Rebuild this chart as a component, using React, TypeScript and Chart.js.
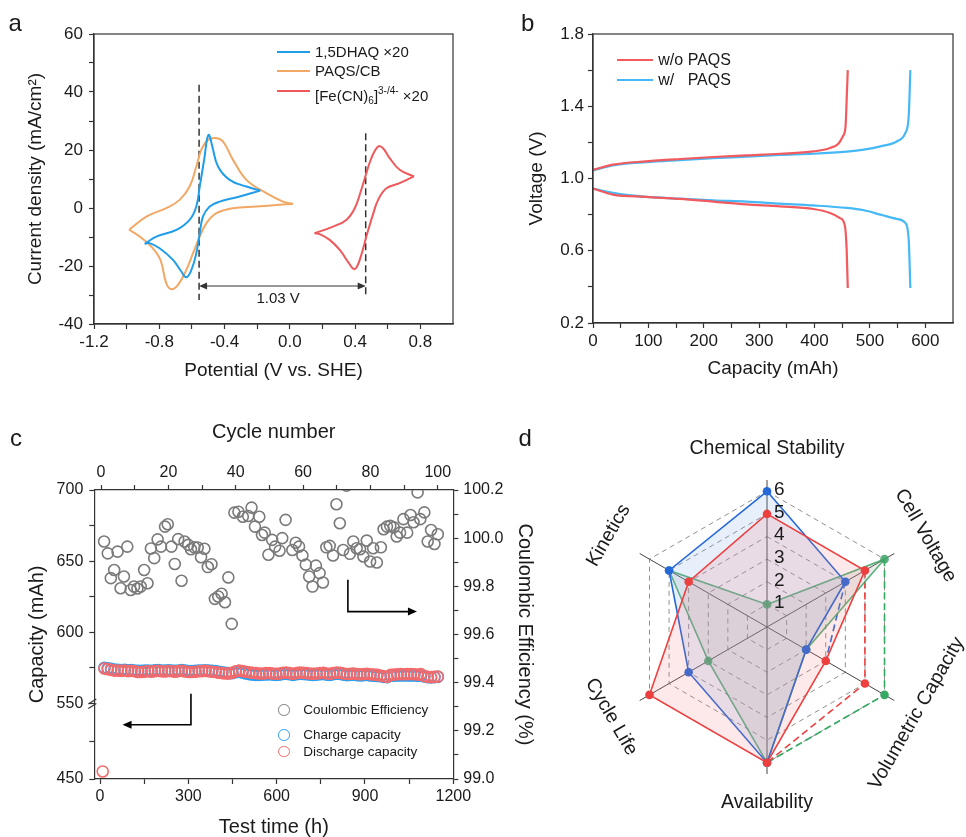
import React, { useEffect, useRef } from "react";
import { Chart, registerables } from "chart.js";

Chart.register(...registerables);

const FONT = "'Liberation Sans', Arial, Helvetica, sans-serif";
const INK = "#1a1a1a";
const AXIS = "#333333";
Chart.defaults.font.family = FONT;
Chart.defaults.color = INK;

// ---------------- Panel a : cyclic voltammetry ----------------
const dhaqAnodicV = [-0.889, -0.818, -0.695, -0.614, -0.573, -0.552, -0.522, -0.508, -0.495, -0.475, -0.44, -0.369, -0.266, -0.181];
const dhaqAnodicI = [-12.37, -9.85, -7.54, -4.09, 0.51, 7.41, 17.76, 23.5, 25.25, 21.2, 14.3, 9.7, 7.4, 6.0];
const dhaqCathodicV = [-0.181, -0.307, -0.43, -0.491, -0.532, -0.552, -0.573, -0.603, -0.634, -0.665, -0.716, -0.798, -0.859, -0.889];
const dhaqCathodicI = [6.0, 3.96, 2.2, 0.5, -2.9, -8.7, -15.6, -21.35, -23.9, -21.9, -17.9, -13.9, -12.1, -12.37];

const paqsAnodicV = [-0.985, -0.879, -0.757, -0.675, -0.614, -0.573, -0.542, -0.501, -0.454, -0.409, -0.348, -0.266, -0.144, -0.042, 0.019];
const paqsAnodicI = [-7.5, -2.94, -0.06, 2.8, 7.4, 14.3, 20.1, 23.5, 24.1, 22.9, 16.6, 9.7, 5.1, 2.2, 1.4];
const paqsCathodicV = [0.019, -0.062, -0.205, -0.348, -0.45, -0.511, -0.552, -0.593, -0.634, -0.685, -0.726, -0.757, -0.793, -0.849, -0.92, -0.985];
const paqsCathodicI = [1.4, 1.1, 0.5, -0.06, -1.8, -5.2, -9.85, -15.6, -21.35, -26.5, -28.0, -26.0, -17.9, -13.3, -9.85, -7.5];

const fcnAnodicV = [0.152, 0.265, 0.346, 0.398, 0.438, 0.469, 0.5, 0.541, 0.571, 0.612, 0.673, 0.761];
const fcnAnodicI = [-8.7, -6.4, -4.1, -0.07, 6.3, 12.0, 17.2, 21.2, 20.6, 17.2, 13.2, 10.9];
const fcnCathodicV = [0.761, 0.673, 0.592, 0.541, 0.506, 0.469, 0.438, 0.412, 0.393, 0.363, 0.306, 0.244, 0.183, 0.152];
const fcnCathodicI = [10.9, 8.56, 6.8, 2.8, -2.9, -9.85, -16.2, -20.2, -21.1, -19.1, -14.45, -11.0, -9.0, -8.7];

const gapLeftV = [-0.556, -0.556];
const gapLeftI = [42.5, -31.7];
const gapRightV = [0.465, 0.465];
const gapRightI = [25.8, -30.0];
const gapArrowI = -26.9;
const gapLabel = "1.03 V";
const gapLabelV = -0.072;
const gapLabelI = -31.3;

const aXMajor = [-1.2, -0.8, -0.4, 0, 0.4, 0.8];
const aXLabels = ["-1.2", "-0.8", "-0.4", "0.0", "0.4", "0.8"];
const aXMinor = [-1.0, -0.6, -0.2, 0.2, 0.6];
const aYMajor = [-40, -20, 0, 20, 40, 60];
const aYLabels = ["-40", "-20", "0", "20", "40", "60"];
const aYMinor = [-30, -10, 10, 30, 50];

// ---------------- Panel b : charge / discharge ----------------
const woChargeCap = [0, 36, 96, 157, 217, 277, 338, 398, 428, 443, 451, 456, 458, 460];
const woChargeV = [1.048, 1.077, 1.095, 1.108, 1.119, 1.128, 1.137, 1.15, 1.169, 1.193, 1.233, 1.289, 1.436, 1.6];
const wChargeCap = [0, 36, 96, 157, 217, 277, 338, 398, 458, 489, 519, 549, 564, 570, 573];
const wChargeV = [1.045, 1.073, 1.091, 1.102, 1.112, 1.121, 1.13, 1.137, 1.149, 1.16, 1.178, 1.206, 1.252, 1.344, 1.6];
const woDischargeCap = [0, 36, 96, 157, 217, 277, 338, 398, 428, 446, 455, 458, 460];
const woDischargeV = [0.944, 0.911, 0.898, 0.887, 0.872, 0.857, 0.846, 0.831, 0.809, 0.781, 0.735, 0.606, 0.394];
const wDischargeCap = [0, 36, 96, 157, 217, 277, 338, 398, 458, 489, 519, 549, 564, 570, 573];
const wDischargeV = [0.944, 0.92, 0.898, 0.889, 0.879, 0.872, 0.861, 0.851, 0.837, 0.824, 0.8, 0.776, 0.754, 0.661, 0.394];

const bXMajor = [0, 100, 200, 300, 400, 500, 600];
const bXLabels = ["0", "100", "200", "300", "400", "500", "600"];
const bXMinor = [50, 150, 250, 350, 450, 550];
const bYMajor = [0.2, 0.6, 1.0, 1.4, 1.8];
const bYLabels = ["0.2", "0.6", "1.0", "1.4", "1.8"];
const bYMinor = [0.4, 0.8, 1.2, 1.6];

// ---------------- Panel c : cycling ----------------
const ceCycle = [0.9, 2.0, 2.9, 3.9, 4.9, 5.8, 6.8, 7.8, 8.8, 9.8, 10.8, 11.8, 12.8, 13.8, 14.8, 15.8, 16.8, 17.8, 19.0, 19.8,
  20.9, 21.9, 22.9, 23.9, 24.8, 25.9, 26.7, 27.7, 28.7, 29.7, 30.7, 31.7, 32.8, 33.8, 34.8, 35.8, 36.8, 37.8, 38.8, 39.6,
  40.8, 42.1, 43.7, 44.7, 45.7, 47.0, 47.8, 48.6, 49.7, 50.8, 51.7, 53.0, 53.8, 54.8, 56.8, 57.8, 58.8, 59.8, 60.8, 61.8,
  62.8, 63.8, 64.9, 65.9, 66.9, 67.9, 68.9, 69.9, 70.9, 71.9, 72.9, 73.9, 74.9, 75.9, 76.9, 77.9, 78.9, 79.9, 80.8, 81.9,
  83.1, 83.9, 84.9, 85.9, 86.9, 87.8, 88.8, 89.8, 90.9, 91.9, 92.8, 94.0, 94.8, 96.0, 97.0, 98.0, 99.0, 100.0];
const ceValue = [99.986, 99.937, 99.834, 99.868, 99.944, 99.792, 99.841, 99.965, 99.785, 99.799, 99.791, 99.799, 99.868, 99.813, 99.957, 99.917, 99.995, 99.965, 100.048, 100.058,
  99.965, 99.893, 99.996, 99.823, 99.986, 99.972, 99.954, 99.962, 99.961, 99.921, 99.956, 99.88, 99.892, 99.748, 99.758, 99.769, 99.734, 99.837, 99.644, 100.106,
  100.11, 100.089, 100.092, 100.127, 100.048, 100.089, 100.013, 100.023, 99.931, 99.993, 99.965, 99.948, 100.0, 100.076, 99.951, 99.981, 99.965, 99.928, 99.89, 99.841,
  99.799, 99.886, 99.855, 99.816, 99.962, 99.968, 99.928, 100.141, 100.062, 99.951, 100.218, 99.935, 99.986, 99.958, 99.954, 99.924, 99.99, 99.903, 99.958, 99.899,
  99.962, 100.037, 100.048, 100.051, 100.045, 100.007, 100.023, 100.079, 100.023, 100.096, 100.066, 100.19, 100.079, 100.107, 99.986, 100.034, 99.976, 100.016];

const capacityCycle = [1, 2, 3, 4, 5, 6, 7, 8, 9, 10, 11, 12, 13, 14, 15, 16, 17, 18, 19, 20, 21, 22, 23, 24, 25, 26, 27, 28, 29, 30,
  31, 32, 33, 34, 35, 36, 37, 38, 39, 40, 41, 42, 43, 44, 45, 46, 47, 48, 49, 50, 51, 52, 53, 54, 55, 56, 57, 58, 59, 60,
  61, 62, 63, 64, 65, 66, 67, 68, 69, 70, 71, 72, 73, 74, 75, 76, 77, 78, 79, 80, 81, 82, 83, 84, 85, 86, 87, 88, 89, 90,
  91, 92, 93, 94, 95, 96, 97, 98, 99, 100];
const dischargeCapacity = [574.5, 574, 573.5, 573, 573, 572.8, 573, 572.6, 572.8, 572.5,
  572, 572, 572.3, 572.5, 572.2, 572.6, 572.8, 572.5, 572.4, 572.7,
  572.5, 572.2, 572.6, 572.8, 572.4, 572, 572, 572.2, 572.5, 572.6,
  572.8, 572.5, 572.2, 572, 571.5, 571.2, 571, 571, 571.5, 572.5,
  573, 572.6, 572.2, 571.8, 571.5, 571.2, 571, 571, 571.2, 571.3,
  571, 570.8, 571, 571.5, 571.6, 571.2, 570.8, 571.2, 571.6, 571.4,
  571.2, 571, 570.8, 571, 571.2, 571.4, 571, 570.8, 571.3, 571.6,
  571.4, 571, 570.6, 570.8, 571, 570.6, 570.4, 570.6, 570.8, 570.4,
  570.2, 570, 569.6, 569, 568.6, 570, 570.2, 570.4, 570.5, 570.4,
  570.5, 570.6, 570.4, 570.2, 570.5, 569.2, 568.6, 568.4, 568.6, 568.8];
const chargeCapacity = [575, 574.6, 574.2, 573.8, 573.6, 573.4, 573.5, 573.2, 573.3, 573,
  572.8, 572.9, 573, 573.1, 572.9, 573.2, 573.3, 573, 573, 573.2,
  573, 572.8, 573.1, 573.3, 573, 572.7, 572.6, 572.8, 573, 573.1,
  573.2, 573, 572.8, 572.6, 572.2, 571.8, 571.4, 571.2, 571.2, 571.8,
  572.2, 571.6, 571, 570.5, 570.2, 570, 570, 570.2, 570.3, 570.4,
  570.2, 570, 570.2, 570.6, 570.8, 570.4, 570, 570.4, 570.8, 570.6,
  570.4, 570.2, 570, 570.2, 570.4, 570.6, 570.2, 570, 570.5, 570.8,
  570.6, 570.2, 569.8, 570, 570.2, 569.8, 569.6, 569.8, 570, 569.6,
  569.4, 569.2, 569, 568.6, 568.4, 569.4, 569.4, 569.6, 569.6, 569.5,
  569.6, 569.6, 569.5, 569.3, 569.5, 568.8, 568.4, 568.2, 568.4, 568.6];
const firstDischargeCycle = [0.5];
const firstDischargeCapacity = [460];

const cTopMajor = [0, 20, 40, 60, 80, 100];
const cTopLabels = ["0", "20", "40", "60", "80", "100"];
const cTopMinor = [10, 30, 50, 70, 90];
const cBottomMajor = [0, 300, 600, 900, 1200];
const cBottomLabels = ["0", "300", "600", "900", "1200"];
const cBottomMinor = [150, 450, 750, 1050];
const cCapMajor = [550, 600, 650, 700];
const cCapLabels = ["550", "600", "650", "700"];
const cCapMinor = [575, 625, 675];
const cCapLowMajor = [450];
const cCapLowLabels = ["450"];
const cCapLowMinor = [500];
const cCeMajor = [99.0, 99.2, 99.4, 99.6, 99.8, 100.0, 100.2];
const cCeLabels = ["99.0", "99.2", "99.4", "99.6", "99.8", "100.0", "100.2"];
const cCeMinor = [99.1, 99.3, 99.5, 99.7, 99.9, 100.1];

// arrows (cycle number, coulombic efficiency)
const leftArrowPath = [[26.7, 99.354], [26.7, 99.225], [6.4, 99.225]];
const rightArrowPath = [[73.3, 99.827], [73.3, 99.695], [93.8, 99.695]];

// ---------------- Panel d : radar ----------------
const radarLabels = ["Chemical Stability", "Cell Voltage", "Volumetric Capacity", "Availability", "Cycle Life", "Kinetics"];
const redScores = [5, 5, 3, 6, 6, 4];
const blueScores = [6, 4, 2, 6, 4, 5];
const greenScores = [1, 6, 2, 6, 3, 5];
const redProjected = [null, 5, 5, 6, null, null];
const greenProjected = [null, 6, 6, 6, null, null];
const blueProjected = [null, 4, 3, null, null, null];
const radarTickValues = [0, 1, 2, 3, 4, 5, 6];
const radarTickLabels = ["", "1", "2", "3", "4", "5", "6"];

// ---------------- helpers ----------------
const pts = (xs: number[], ys: number[]) => xs.map((x, i) => ({ x, y: ys[i] }));

function axis(p: any) {
  const all = [...p.major, ...p.minor].sort((a: number, b: number) => a - b);
  return {
    type: "linear",
    position: p.position,
    min: p.min,
    max: p.max,
    bounds: "data",
    stack: p.stack,
    stackWeight: p.weight,
    afterBuildTicks: (s: any) => {
      s.ticks = all.map((v: number) => ({ value: v }));
    },
    afterFit: (s: any) => {
      if (s.isHorizontal()) s.height = p.fit;
      else s.width = p.fit;
    },
    ticks: {
      autoSkip: false,
      maxRotation: 0,
      minRotation: 0,
      padding: p.pad ?? 5,
      font: { size: p.size ?? 17 },
      color: INK,
      callback: (v: number) => {
        const i = p.major.findIndex((m: number) => Math.abs(m - v) < 1e-9);
        return i >= 0 ? p.labels[i] : "";
      },
    },
    grid: { display: true, drawOnChartArea: false, drawTicks: true, tickLength: 5, tickWidth: 1.2, tickColor: AXIS },
    border: { display: true, color: AXIS, width: 1.2 },
    title: p.title ?? { display: false },
  };
}

const framePlugin = {
  id: "frame",
  afterDraw(chart: any) {
    const { ctx, chartArea: a } = chart;
    ctx.save();
    ctx.strokeStyle = AXIS;
    ctx.lineWidth = 1.2;
    ctx.strokeRect(a.left, a.top, a.right - a.left, a.bottom - a.top);
    ctx.restore();
  },
};

function arrowHead(ctx: any, x: number, y: number, dx: number, dy: number, len: number, half: number) {
  ctx.beginPath();
  ctx.moveTo(x, y);
  ctx.lineTo(x - dx * len - dy * half, y - dy * len + dx * half);
  ctx.lineTo(x - dx * len + dy * half, y - dy * len - dx * half);
  ctx.closePath();
  ctx.fill();
}

// ---------------- panel builders ----------------
const A_BLUE = "#1f9de9";
const A_ORANGE = "#f2a865";
const A_RED = "#f0595c";

function cvLine(xs: number[], ys: number[], color: string) {
  return { data: pts(xs, ys), showLine: true, borderColor: color, backgroundColor: color, borderWidth: 2, pointRadius: 0, tension: 0.4, fill: false };
}
function dashLine(xs: number[], ys: number[]) {
  return { data: pts(xs, ys), showLine: true, borderColor: "#333", borderWidth: 1.5, borderDash: [7, 4], pointRadius: 0, fill: false };
}

const cvAnnotations = {
  id: "cvAnnotations",
  afterDatasetsDraw(chart: any) {
    const { ctx } = chart;
    const x = chart.scales.x;
    const y = chart.scales.y;
    const ya = y.getPixelForValue(gapArrowI);
    const x1 = x.getPixelForValue(gapLeftV[0]);
    const x2 = x.getPixelForValue(gapRightV[0]);
    ctx.save();
    ctx.strokeStyle = "#333";
    ctx.fillStyle = "#333";
    ctx.lineWidth = 1.1;
    ctx.beginPath();
    ctx.moveTo(x1 + 2, ya);
    ctx.lineTo(x2 - 2, ya);
    ctx.stroke();
    arrowHead(ctx, x1, ya, -1, 0, 8, 3.5);
    arrowHead(ctx, x2, ya, 1, 0, 8, 3.5);
    ctx.fillStyle = INK;
    ctx.font = `15px ${FONT}`;
    ctx.textAlign = "center";
    ctx.textBaseline = "middle";
    ctx.fillText(gapLabel, x.getPixelForValue(gapLabelV), y.getPixelForValue(gapLabelI));
    ctx.restore();
  },
};

function buildA() {
  return {
    type: "scatter",
    data: {
      datasets: [
        cvLine(fcnAnodicV, fcnAnodicI, A_RED),
        cvLine(fcnCathodicV, fcnCathodicI, A_RED),
        cvLine(dhaqAnodicV, dhaqAnodicI, A_BLUE),
        cvLine(dhaqCathodicV, dhaqCathodicI, A_BLUE),
        cvLine(paqsAnodicV, paqsAnodicI, A_ORANGE),
        cvLine(paqsCathodicV, paqsCathodicI, A_ORANGE),
        dashLine(gapLeftV, gapLeftI),
        dashLine(gapRightV, gapRightI),
      ],
    },
    options: {
      responsive: false,
      animation: false,
      layout: { padding: { left: 0, top: 34, right: 30, bottom: 0 } },
      plugins: { legend: { display: false }, tooltip: { enabled: false } },
      scales: {
        x: axis({ position: "bottom", min: -1.2, max: 1.0, major: aXMajor, labels: aXLabels, minor: aXMinor, fit: 66, pad: 3,
          title: { display: true, text: "Potential (V vs. SHE)", font: { size: 19 }, color: INK, padding: { top: 0, bottom: 8 } } }),
        y: axis({ position: "left", min: -40, max: 60, major: aYMajor, labels: aYLabels, minor: aYMinor, fit: 94, pad: 6,
          title: { display: true, text: "Current density (mA/cm²)", font: { size: 19 }, color: INK, padding: { top: 24, bottom: 0 } } }),
      },
    },
    plugins: [framePlugin, cvAnnotations],
  };
}

const B_RED = "#f25a5e";
const B_BLUE = "#45b8f5";
function gcdLine(xs: number[], ys: number[], color: string) {
  return { data: pts(xs, ys), showLine: true, borderColor: color, backgroundColor: color, borderWidth: 2.2, pointRadius: 0, cubicInterpolationMode: "monotone", fill: false };
}
function buildB() {
  return {
    type: "scatter",
    data: {
      datasets: [
        gcdLine(woChargeCap, woChargeV, B_RED),
        gcdLine(woDischargeCap, woDischargeV, B_RED),
        gcdLine(wChargeCap, wChargeV, B_BLUE),
        gcdLine(wDischargeCap, wDischargeV, B_BLUE),
      ],
    },
    options: {
      responsive: false,
      animation: false,
      layout: { padding: { left: 0, top: 34, right: 13, bottom: 0 } },
      plugins: { legend: { display: false }, tooltip: { enabled: false } },
      scales: {
        x: axis({ position: "bottom", min: 0, max: 650, major: bXMajor, labels: bXLabels, minor: bXMinor, fit: 67, pad: 3,
          title: { display: true, text: "Capacity (mAh)", font: { size: 19 }, color: INK, padding: { top: 0, bottom: 10 } } }),
        y: axis({ position: "left", min: 0.2, max: 1.8, major: bYMajor, labels: bYLabels, minor: bYMinor, fit: 110, pad: 4,
          title: { display: true, text: "Voltage (V)", font: { size: 19 }, color: INK, padding: { top: 42, bottom: 0 } } }),
      },
    },
    plugins: [framePlugin],
  };
}

const C_GRAY = "#7a7a7a";
const C_BLUE = "#2a9ff0";
const C_RED = "#f46a6a";

const cyclingDecorations = {
  id: "cyclingDecorations",
  afterDraw(chart: any) {
    const { ctx, chartArea } = chart;
    const xs = chart.scales.xTop;
    const ys = chart.scales.yCE;
    const yb = chart.scales.y.bottom;
    const left = chartArea.left;
    ctx.save();
    // axis break marks
    ctx.strokeStyle = AXIS;
    ctx.lineWidth = 1.2;
    for (const off of [-2.2, 2.2]) {
      ctx.beginPath();
      ctx.moveTo(left - 6, yb + off + 3);
      ctx.lineTo(left + 2, yb + off - 2);
      ctx.stroke();
    }
    // guide arrows
    ctx.strokeStyle = "#000";
    ctx.fillStyle = "#000";
    ctx.lineWidth = 1.6;
    for (const path of [leftArrowPath, rightArrowPath]) {
      const p = path.map(([c, e]) => [xs.getPixelForValue(c), ys.getPixelForValue(e)]);
      ctx.beginPath();
      ctx.moveTo(p[0][0], p[0][1]);
      ctx.lineTo(p[1][0], p[1][1]);
      const dir = Math.sign(p[2][0] - p[1][0]);
      ctx.lineTo(p[2][0] - dir * 6, p[2][1]);
      ctx.stroke();
      arrowHead(ctx, p[2][0], p[2][1], dir, 0, 9, 4);
    }
    ctx.restore();
  },
};

function circles(xs: number[], ys: number[], color: string, xAxisID: string, yAxisID: string) {
  return { data: pts(xs, ys), xAxisID, yAxisID, showLine: false, pointStyle: "circle", pointRadius: 5.5, borderWidth: 1.6, borderColor: color, backgroundColor: "rgba(255,255,255,0)", pointBackgroundColor: "rgba(255,255,255,0)" };
}

function buildC() {
  return {
    type: "scatter",
    data: {
      datasets: [
        circles(firstDischargeCycle, firstDischargeCapacity, C_RED, "xTop", "yLow"),
        circles(capacityCycle, dischargeCapacity, C_RED, "xTop", "y"),
        circles(capacityCycle, chargeCapacity, C_BLUE, "xTop", "y"),
        circles(ceCycle, ceValue, C_GRAY, "xTop", "yCE"),
      ],
    },
    options: {
      responsive: false,
      animation: false,
      layout: { padding: 0 },
      plugins: { legend: { display: false }, tooltip: { enabled: false } },
      scales: {
        x: axis({ position: "bottom", min: -19.4, max: 1200, major: cBottomMajor, labels: cBottomLabels, minor: cBottomMinor, fit: 58, pad: 3, size: 16,
          title: { display: true, text: "Test time (h)", font: { size: 20, lineHeight: 1 }, color: INK, padding: { top: 0, bottom: 0 } } }),
        xTop: axis({ position: "top", min: -2, max: 104.6, major: cTopMajor, labels: cTopLabels, minor: cTopMinor, fit: 90, pad: 3, size: 16,
          title: { display: true, text: "Cycle number", font: { size: 20 }, color: INK, padding: { top: 20, bottom: 0 } } }),
        yLow: axis({ position: "left", min: 450, max: 550, major: cCapLowMajor, labels: cCapLowLabels, minor: cCapLowMinor, fit: 94.3, pad: 6, size: 16,
          stack: "capacity", weight: 75.7 }),
        y: axis({ position: "left", min: 550, max: 700, major: cCapMajor, labels: cCapLabels, minor: cCapMinor, fit: 94.3, pad: 6, size: 16,
          stack: "capacity", weight: 213.3,
          title: { display: true, text: "Capacity (mAh)", align: "start", font: { size: 20 }, color: INK, padding: { top: 25, bottom: 0 } } }),
        yCE: axis({ position: "right", min: 99.0, max: 100.2, major: cCeMajor, labels: cCeLabels, minor: cCeMinor, fit: 96.7, pad: 5, size: 16,
          title: { display: true, text: "Coulombic Efficiency (%)", font: { size: 20 }, color: INK, padding: { top: 13, bottom: 0 } } }),
      },
    },
    plugins: [cyclingDecorations],
  };
}

const D_RED = "#ee3f3f";
const D_BLUE = "#2468d9";
const D_GREEN = "#35a862";
const labelRotation = [0, Math.PI / 3, -Math.PI / 3, 0, Math.PI / 3, -Math.PI / 3];
const labelDistance = [7.87, 8.09, 7.64, 7.78, 7.95, 8.09];

const radarText = {
  id: "radarText",
  afterDraw(chart: any) {
    const { ctx } = chart;
    const s = chart.scales.r;
    ctx.save();
    ctx.fillStyle = INK;
    ctx.font = `19px ${FONT}`;
    ctx.textAlign = "left";
    ctx.textBaseline = "middle";
    radarTickValues.forEach((v, i) => {
      if (!radarTickLabels[i]) return;
      const d = s.getDistanceFromCenterForValue(v);
      ctx.fillText(radarTickLabels[i], s.xCenter + 7, s.yCenter - d - 1.5);
    });
    ctx.font = `19.5px ${FONT}`;
    ctx.textAlign = "center";
    radarLabels.forEach((lab, i) => {
      const p = s.getPointPosition(i, s.getDistanceFromCenterForValue(labelDistance[i]));
      ctx.save();
      ctx.translate(p.x, p.y);
      ctx.rotate(labelRotation[i]);
      ctx.fillText(lab, 0, 0);
      ctx.restore();
    });
    ctx.restore();
  },
};

function buildD() {
  const solid = (data: number[], color: string, fillColor: string) => ({
    data, borderColor: color, backgroundColor: fillColor, pointBackgroundColor: color, pointBorderColor: color,
    borderWidth: 1.6, pointRadius: 4.3, pointBorderWidth: 0, fill: true,
  });
  const dashed = (data: (number | null)[], color: string, radius: number[]) => ({
    data, borderColor: color, backgroundColor: color, pointBackgroundColor: color, pointBorderColor: color,
    borderWidth: 1.6, borderDash: [7, 4], pointRadius: radius, pointBorderWidth: 0, fill: false, spanGaps: false,
  });
  return {
    type: "radar",
    data: {
      labels: radarLabels,
      datasets: [
        solid(redScores, D_RED, "rgba(244,120,120,0.16)"),
        solid(blueScores, D_BLUE, "rgba(110,160,230,0.17)"),
        solid(greenScores, "rgba(60,165,100,0.85)", "rgba(150,160,150,0.18)"),
        dashed(redProjected, D_RED, [0, 0, 4.3, 0, 0, 0]),
        dashed(greenProjected, D_GREEN, [0, 0, 4.3, 0, 0, 0]),
        dashed(blueProjected, D_BLUE, [0, 0, 0, 0, 0, 0]),
      ],
    },
    options: {
      responsive: false,
      animation: false,
      layout: { padding: { left: 80, right: 52, top: 60, bottom: 63 } },
      plugins: { legend: { display: false }, tooltip: { enabled: false } },
      elements: { line: { tension: 0 } },
      scales: {
        r: {
          min: 0,
          max: 6.5,
          bounds: "data",
          afterBuildTicks: (s: any) => {
            s.ticks = radarTickValues.map((v) => ({ value: v }));
          },
          ticks: { display: false },
          pointLabels: { display: false },
          grid: { color: "#8f8f8f", lineWidth: 1 },
          border: { dash: [5, 4] },
          angleLines: { color: "#444", lineWidth: 1 },
        },
      },
    },
    plugins: [radarText],
  };
}

// ---------------- components ----------------
function ChartCanvas({ left, top, width, height, build }: { left: number; top: number; width: number; height: number; build: () => any }) {
  const ref = useRef<HTMLCanvasElement | null>(null);
  useEffect(() => {
    if (!ref.current) return;
    const chart = new Chart(ref.current, build());
    return () => chart.destroy();
  }, []);
  return <canvas ref={ref} width={width} height={height} style={{ position: "absolute", left, top, width, height }} />;
}

const abs = (left: number, top: number, extra: any = {}) => ({ position: "absolute" as const, left, top, whiteSpace: "pre" as const, ...extra });

function LineKey({ x, y, w, color, children, size }: any) {
  return (
    <>
      <div style={abs(x, y - 1.1, { width: w, height: 2.2, background: color })} />
      <div style={abs(x + w + 5, y - 10, { fontSize: size, lineHeight: "20px", color: INK })}>{children}</div>
    </>
  );
}

function CircleKey({ x, y, color, label }: any) {
  return (
    <>
      <div style={abs(x - 6, y - 6, { width: 9.5, height: 9.5, border: `1.5px solid ${color}`, borderRadius: "50%" })} />
      <div style={abs(x + 19, y - 9, { fontSize: 13.5, lineHeight: "18px", color: INK })}>{label}</div>
    </>
  );
}

export default function App() {
  const letter = { fontSize: 24, lineHeight: "24px", color: INK };
  return (
    <div style={{ position: "absolute", left: 0, top: 0, width: 966, height: 837, overflow: "hidden", background: "#fff", fontFamily: FONT, color: INK }}>
      <ChartCanvas left={0} top={0} width={483} height={390} build={buildA} />
      <ChartCanvas left={483} top={0} width={483} height={390} build={buildB} />
      <ChartCanvas left={0} top={400} width={550} height={437} build={buildC} />
      <ChartCanvas left={540} top={420} width={426} height={417} build={buildD} />

      <div style={abs(8.5, 11.4, letter)}>a</div>
      <div style={abs(521, 11.4, letter)}>b</div>
      <div style={abs(10, 426.4, letter)}>c</div>
      <div style={abs(518.5, 426.4, letter)}>d</div>

      <LineKey x={276.7} y={52.3} w={33.3} color={A_BLUE} size={15}>1,5DHAQ ×20</LineKey>
      <LineKey x={276.7} y={71} w={33.3} color={A_ORANGE} size={15}>PAQS/CB</LineKey>
      <LineKey x={276.7} y={90.7} w={33.3} color={A_RED} size={15}>
        [Fe(CN)<span style={{ fontSize: 10, verticalAlign: "-3px" }}>6</span>]<span style={{ fontSize: 10, verticalAlign: "7px" }}>3-/4-</span> ×20
      </LineKey>

      <LineKey x={616.7} y={60} w={36.6} color={B_RED} size={16}>w/o PAQS</LineKey>
      <LineKey x={616.7} y={80} w={36.6} color={B_BLUE} size={16}>{"w/   PAQS"}</LineKey>

      <CircleKey x={284.3} y={710} color={C_GRAY} label="Coulombic Efficiency" />
      <CircleKey x={284.3} y={735} color={C_BLUE} label="Charge capacity" />
      <CircleKey x={284.3} y={751.7} color={C_RED} label="Discharge capacity" />
    </div>
  );
}
